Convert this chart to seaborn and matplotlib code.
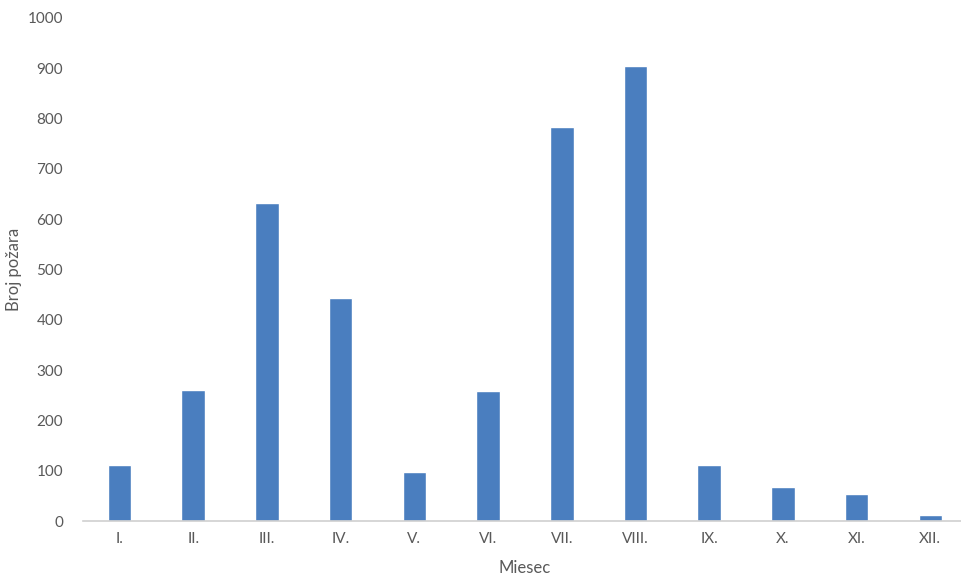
import matplotlib
matplotlib.use("Agg")
import matplotlib.pyplot as plt
import seaborn as sns
import pandas as pd

# monthly fire counts
months = ['I.', 'II.', 'III.', 'IV.', 'V.', 'VI.', 'VII.', 'VIII.', 'IX.', 'X.', 'XI.', 'XII.']
fires = [112, 261, 633, 444, 98, 259, 784, 904, 112, 68, 54, 11]

sns.set_theme(style='white')
plt.rcParams['font.family'] = ['Lato', 'DejaVu Sans']

df = pd.DataFrame({'Miesec': months, 'Broj požara': fires})

fig = plt.figure(figsize=(9.62, 5.78), dpi=100)
ax = fig.add_axes([0.0859, 0.0986, 0.9195, 0.8704])
sns.barplot(data=df, x='Miesec', y='Broj požara', color='#4a7ebf',
            width=0.32, saturation=1, ax=ax)

ax.set_ylim(0, 1000)
ax.set_xlim(-0.5, 11.5)
ax.set_yticks(range(0, 1001, 100))
for s in ['top', 'right', 'left']:
    ax.spines[s].set_visible(False)
ax.spines['bottom'].set_color('#d0d0d0')
ax.spines['bottom'].set_linewidth(1.2)
ax.tick_params(axis='both', length=0, labelsize=11, colors='#595959', pad=8)
ax.tick_params(axis='y', pad=14)
ax.set_xlabel('Miesec', fontsize=12, color='#595959', labelpad=10)
ax.set_ylabel('Broj požara', fontsize=12, color='#595959', labelpad=4)

fig.savefig('out.png', dpi=100)
